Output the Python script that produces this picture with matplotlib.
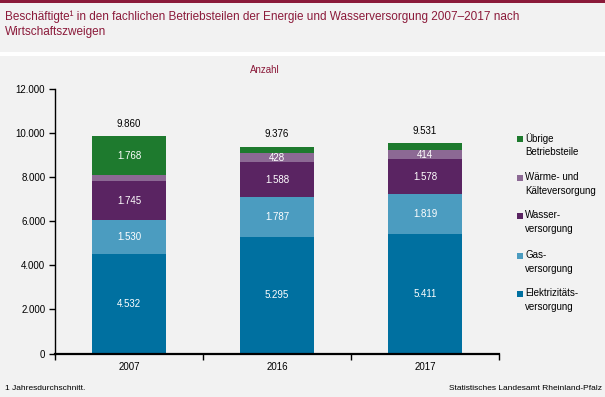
import matplotlib
matplotlib.use("Agg")
import matplotlib.pyplot as plt
from matplotlib.patches import Rectangle
import numpy as np

plt.rcParams['font.family'] = ['Liberation Sans', 'DejaVu Sans']

years = ["2007", "2016", "2017"]
series_names = ["Elektrizitäts-\nversorgung", "Gas-\nversorgung", "Wasser-\nversorgung",
                "Wärme- und\nKälteversorgung", "Übrige\nBetriebsteile"]
elektrizitaet = [4532, 5295, 5411]
gas = [1530, 1787, 1819]
wasser = [1745, 1588, 1578]
waerme = [285, 428, 414]
uebrige = [1768, 278, 309]
totals = [9860, 9376, 9531]
show_label = [[True, True, True], [True, True, True], [True, True, True],
              [False, True, True], [True, False, False]]
yticks = [0, 2000, 4000, 6000, 8000, 10000, 12000]

colors = ["#0070a0", "#4b9cc0", "#5a2462", "#8c6994", "#1e7a2e"]
bg = "#f2f2f2"
red = "#8b1a3a"

W, H = 605, 397
fig = plt.figure(figsize=(W / 100, H / 100), dpi=100, facecolor=bg)

def fx(px):
    return px / W

def fy(py):
    return 1 - py / H

# top bar and white separator
fig.patches.append(Rectangle((0, fy(2.5)), 1, 2.5 / H, transform=fig.transFigure,
                             facecolor=red, edgecolor='none'))
fig.patches.append(Rectangle((0, fy(55.5)), 1, 3.5 / H, transform=fig.transFigure,
                             facecolor='white', edgecolor='none'))

fig.text(fx(5), fy(17), "Beschäftigte¹ in den fachlichen Betriebsteilen der Energie und Wasserversorgung 2007–2017 nach",
         color=red, fontsize=8.5, va='center', ha='left')
fig.text(fx(5), fy(32), "Wirtschaftszweigen", color=red, fontsize=8.5, va='center', ha='left')
fig.text(fx(265), fy(70), "Anzahl", color=red, fontsize=7, va='center', ha='center')

ax = fig.add_axes([fx(55), fy(353.5), fx(499) - fx(55), (353.5 - 89) / H])
ax.set_facecolor(bg)

series = [elektrizitaet, gas, wasser, waerme, uebrige]
x = np.arange(len(years))
bottom = np.zeros(len(years))
for i, (vals, c) in enumerate(zip(series, colors)):
    vals = np.array(vals, dtype=float)
    ax.bar(x, vals, 0.5, bottom=bottom, color=c, edgecolor='none')
    for j in range(len(years)):
        if show_label[i][j]:
            ax.text(x[j], bottom[j] + vals[j] / 2, f"{int(vals[j]):,}".replace(",", "."),
                    ha='center', va='center', color='white', fontsize=7)
    bottom += vals

for j in range(len(years)):
    ax.annotate(f"{totals[j]:,}".replace(",", "."), (x[j], totals[j]), xytext=(0, 9),
                textcoords='offset points', ha='center', va='center', fontsize=7, color='black')

ax.set_xlim(-0.5, 2.5)
ax.set_ylim(0, 12000)
ax.set_yticks(yticks)
ax.set_yticklabels([f"{v:,}".replace(",", ".") for v in yticks], fontsize=7)
ax.set_xticks(x)
ax.set_xticklabels(years, fontsize=7)
ax.set_xticks([-0.5, 0.5, 1.5, 2.5], minor=True)
ax.tick_params(axis='x', which='major', length=0, pad=6)
ax.tick_params(axis='x', which='minor', length=4, width=1, direction='out')
ax.tick_params(axis='y', length=4, width=1, direction='out', pad=3)
for s in ['top', 'right']:
    ax.spines[s].set_visible(False)
ax.spines['left'].set_linewidth(1)
ax.spines['bottom'].set_linewidth(1.6)

# legend
leg_y = [139, 178, 216, 256, 294]
for name, c, yy in zip(series_names[::-1], colors[::-1], leg_y):
    fig.patches.append(Rectangle((fx(517), fy(yy + 3)), 6 / W, 6 / H, transform=fig.transFigure,
                                 facecolor=c, edgecolor='none'))
    fig.text(fx(525), fy(yy - 6), name, fontsize=7, va='top', ha='left', linespacing=1.45)

fig.text(fx(5), fy(388), "1 Jahresdurchschnitt.", fontsize=6, va='center', ha='left')
fig.text(fx(602), fy(388), "Statistisches Landesamt Rheinland-Pfalz", fontsize=6, va='center', ha='right')

fig.savefig("out.png", dpi=100, facecolor=bg)
